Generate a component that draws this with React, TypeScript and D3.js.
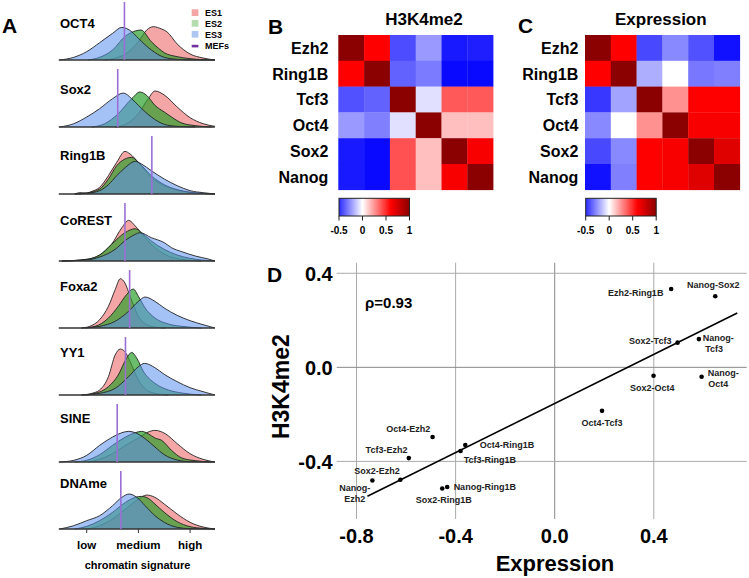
import React from 'react';
import * as d3 from 'd3';

// ---------- Panel A data ----------
const ridgeMarks = ['OCT4', 'Sox2', 'Ring1B', 'CoREST', 'Foxa2', 'YY1', 'SINE', 'DNAme'];
const seriesNames = ['ES1', 'ES2', 'ES3'];
const mefPositions = [1.73, 1.6, 2.26, 1.74, 1.83, 1.75, 1.59, 1.66];
const signatureTickValues = [1, 2, 3];
const signatureTickLabels = ['low', 'medium', 'high'];

type P = [number, number];
const es1Curves: P[][] = [
  [[1.35, 0], [1.5, 0.04], [1.75, 0.18], [2.0, 0.55], [2.16, 0.9], [2.29, 1.0], [2.45, 0.93], [2.55, 0.85], [2.75, 0.48], [3.0, 0.18], [3.25, 0.06], [3.48, 0]],
  [[1.55, 0], [1.75, 0.08], [2.0, 0.4], [2.19, 0.85], [2.32, 1.08], [2.51, 0.95], [2.75, 0.6], [3.0, 0.28], [3.25, 0.1], [3.48, 0.02]],
  [[0.77, 0], [0.87, 0.04], [1.0, 0.03], [1.1, 0.08], [1.25, 0.2], [1.42, 0.55], [1.58, 0.95], [1.74, 1.28], [1.84, 1.2], [2.0, 0.95], [2.25, 0.5], [2.5, 0.25], [2.75, 0.12], [3.0, 0.05], [3.48, 0]],
  [[0.52, 0], [1.0, 0.05], [1.25, 0.18], [1.48, 0.5], [1.68, 1.0], [1.81, 1.22], [1.94, 1.05], [2.13, 0.7], [2.32, 0.4], [2.58, 0.15], [2.84, 0.05], [3.22, 0]],
  [[0.9, 0], [1.06, 0.05], [1.25, 0.25], [1.42, 0.65], [1.55, 1.15], [1.65, 1.48], [1.74, 1.35], [1.84, 0.95], [2.0, 0.35], [2.16, 0.1], [2.32, 0.03], [2.52, 0]],
  [[0.9, 0], [1.1, 0.05], [1.25, 0.15], [1.42, 0.55], [1.55, 1.2], [1.65, 1.38], [1.74, 1.3], [1.84, 1.0], [2.0, 0.45], [2.16, 0.15], [2.32, 0.05], [2.58, 0]],
  [[1.03, 0], [1.25, 0.08], [1.5, 0.25], [1.75, 0.5], [2.0, 0.72], [2.19, 0.9], [2.32, 0.95], [2.52, 0.85], [2.75, 0.55], [3.0, 0.25], [3.25, 0.08], [3.48, 0]],
  [[1.03, 0], [1.25, 0.1], [1.5, 0.3], [1.75, 0.6], [2.0, 0.9], [2.16, 1.02], [2.32, 0.95], [2.5, 0.75], [2.75, 0.45], [3.0, 0.2], [3.25, 0.06], [3.48, 0]],
];
const es2Curves: P[][] = [
  [[1.03, 0], [1.25, 0.08], [1.5, 0.3], [1.75, 0.72], [1.9, 0.85], [2.05, 0.9], [2.25, 0.55], [2.39, 0.35], [2.5, 0.22], [2.75, 0.1], [3.0, 0.04], [3.25, 0.01], [3.48, 0]],
  [[1.1, 0], [1.35, 0.1], [1.61, 0.4], [1.87, 0.85], [2.03, 1.05], [2.16, 0.95], [2.32, 0.65], [2.5, 0.45], [2.64, 0.3], [2.84, 0.12], [3.1, 0.04], [3.42, 0]],
  [[0.77, 0], [1.0, 0.03], [1.25, 0.15], [1.42, 0.45], [1.58, 0.85], [1.74, 1.05], [1.87, 1.1], [2.0, 0.95], [2.25, 0.55], [2.5, 0.28], [2.75, 0.13], [3.0, 0.05], [3.48, 0]],
  [[0.52, 0], [1.0, 0.05], [1.25, 0.18], [1.48, 0.5], [1.74, 0.85], [1.94, 0.97], [2.06, 0.85], [2.25, 0.6], [2.5, 0.35], [2.75, 0.18], [3.0, 0.08], [3.48, 0]],
  [[0.9, 0], [1.16, 0.05], [1.42, 0.3], [1.61, 0.65], [1.77, 1.0], [1.9, 1.17], [2.0, 0.95], [2.13, 0.6], [2.32, 0.3], [2.58, 0.12], [2.84, 0.05], [3.22, 0]],
  [[0.9, 0], [1.16, 0.05], [1.42, 0.25], [1.61, 0.6], [1.77, 1.1], [1.87, 1.28], [1.97, 1.1], [2.1, 0.7], [2.32, 0.35], [2.58, 0.15], [2.84, 0.06], [3.22, 0]],
  [[0.77, 0], [1.0, 0.05], [1.25, 0.22], [1.5, 0.5], [1.75, 0.75], [1.94, 0.88], [2.06, 0.92], [2.19, 0.85], [2.32, 0.72], [2.45, 0.65], [2.64, 0.35], [2.84, 0.12], [3.1, 0.04], [3.42, 0]],
  [[0.77, 0], [1.0, 0.08], [1.25, 0.25], [1.5, 0.5], [1.75, 0.8], [1.94, 0.95], [2.06, 0.98], [2.19, 0.92], [2.32, 0.75], [2.5, 0.5], [2.75, 0.22], [3.0, 0.07], [3.25, 0.02], [3.48, 0]],
];
const es3Curves: P[][] = [
  [[0.48, 0], [0.75, 0.08], [1.0, 0.25], [1.25, 0.52], [1.5, 0.8], [1.68, 0.98], [1.87, 0.85], [2.0, 0.65], [2.25, 0.3], [2.5, 0.08], [2.75, 0.02], [3.0, 0], [3.48, 0]],
  [[0.48, 0], [0.75, 0.1], [1.0, 0.3], [1.25, 0.55], [1.5, 0.85], [1.71, 1.02], [1.87, 0.85], [2.0, 0.65], [2.25, 0.3], [2.5, 0.08], [2.75, 0.02], [3.1, 0]],
  [[0.77, 0], [1.0, 0.02], [1.25, 0.1], [1.42, 0.28], [1.58, 0.55], [1.75, 0.8], [1.94, 0.98], [2.06, 0.9], [2.25, 0.7], [2.5, 0.45], [2.75, 0.25], [3.0, 0.1], [3.25, 0.04], [3.48, 0]],
  [[0.52, 0], [1.0, 0.03], [1.25, 0.12], [1.55, 0.35], [1.75, 0.62], [1.94, 0.8], [2.03, 0.85], [2.25, 0.7], [2.5, 0.55], [2.64, 0.4], [2.84, 0.28], [3.1, 0.15], [3.35, 0.06], [3.48, 0]],
  [[0.97, 0], [1.25, 0.05], [1.55, 0.2], [1.81, 0.5], [2.0, 0.8], [2.13, 0.93], [2.32, 0.8], [2.5, 0.6], [2.75, 0.38], [3.0, 0.22], [3.25, 0.1], [3.48, 0]],
  [[0.97, 0], [1.25, 0.05], [1.55, 0.2], [1.81, 0.55], [2.0, 0.85], [2.12, 0.95], [2.32, 0.82], [2.5, 0.62], [2.75, 0.4], [3.0, 0.22], [3.25, 0.1], [3.48, 0]],
  [[0.48, 0], [0.75, 0.05], [1.0, 0.2], [1.25, 0.5], [1.5, 0.75], [1.68, 0.88], [1.81, 0.92], [1.94, 0.88], [2.13, 0.7], [2.32, 0.45], [2.5, 0.22], [2.75, 0.06], [3.0, 0.01], [3.48, 0]],
  [[0.48, 0], [0.75, 0.1], [1.0, 0.25], [1.25, 0.4], [1.5, 0.7], [1.68, 0.95], [1.82, 1.05], [1.97, 0.95], [2.13, 0.7], [2.32, 0.4], [2.5, 0.2], [2.75, 0.05], [3.0, 0.01], [3.48, 0]],
];

// ---------- Panels B / C data ----------
const genes = ['Ezh2', 'Ring1B', 'Tcf3', 'Oct4', 'Sox2', 'Nanog'];
const h3k4me2Matrix = [
  [1, 0.6, -0.42, -0.24, -0.54, -0.53],
  [0.6, 1, -0.37, -0.31, -0.58, -0.58],
  [-0.41, -0.37, 1, -0.07, 0.39, 0.39],
  [-0.24, -0.3, -0.07, 1, 0.15, 0.15],
  [-0.54, -0.58, 0.41, 0.15, 1, 0.62],
  [-0.54, -0.58, 0.41, 0.15, 0.62, 1],
];
const expressionMatrix = [
  [1, 0.6, -0.43, -0.28, -0.41, -0.56],
  [0.6, 1, -0.19, 0, -0.32, -0.3],
  [-0.47, -0.22, 1, 0.26, 0.6, 0.6],
  [-0.28, 0, 0.26, 1, 0.62, 0.62],
  [-0.43, -0.28, 0.6, 0.62, 1, 0.71],
  [-0.56, -0.3, 0.6, 0.62, 0.71, 1],
];
const colorbarTicks = [-0.5, 0, 0.5, 1];
const colorbarTickLabels = ['-0.5', '0', '0.5', '1'];

// ---------- Panel D data ----------
const pairNames = ['Ezh2-Ring1B', 'Nanog-Sox2', 'Sox2-Tcf3', 'Nanog-Tcf3', 'Sox2-Oct4', 'Nanog-Oct4', 'Oct4-Tcf3', 'Oct4-Ezh2', 'Tcf3-Ezh2', 'Sox2-Ezh2', 'Nanog-Ezh2', 'Tcf3-Ring1B', 'Oct4-Ring1B', 'Sox2-Ring1B', 'Nanog-Ring1B'];
const pairExpression = [0.47, 0.648, 0.496, 0.582, 0.399, 0.593, 0.191, -0.493, -0.589, -0.623, -0.736, -0.38, -0.361, -0.454, -0.434];
const pairH3K4me2 = [0.333, 0.302, 0.105, 0.12, -0.036, -0.04, -0.185, -0.296, -0.386, -0.478, -0.481, -0.356, -0.33, -0.515, -0.509];
const scatterXTicks = [-0.8, -0.4, 0, 0.4];
const scatterYTicks = [0.4, 0, -0.4];
const fitSlope = 0.522;
const fitIntercept = -0.154;
const fitXRange = [-0.756, 0.737];
const rhoLabel = 'ρ=0.93';

// label placement (layout only)
const labelLayout: Record<string, { t: string; dx: number; dy: number }[]> = {
  'Ezh2-Ring1B': [{ t: 'Ezh2-Ring1B', dx: -35.5, dy: 3.3 }],
  'Nanog-Sox2': [{ t: 'Nanog-Sox2', dx: -2, dy: -11.6 }],
  'Sox2-Tcf3': [{ t: 'Sox2-Tcf3', dx: -27.3, dy: -2 }],
  'Nanog-Tcf3': [{ t: 'Nanog-', dx: 19.3, dy: -1 }, { t: 'Tcf3', dx: 15.3, dy: 10 }],
  'Sox2-Oct4': [{ t: 'Sox2-Oct4', dx: -1.3, dy: 11.7 }],
  'Nanog-Oct4': [{ t: 'Nanog-', dx: 21.7, dy: -4.3 }, { t: 'Oct4', dx: 16.7, dy: 7.3 }],
  'Oct4-Tcf3': [{ t: 'Oct4-Tcf3', dx: 0, dy: 12.3 }],
  'Oct4-Ezh2': [{ t: 'Oct4-Ezh2', dx: -24.2, dy: -8.3 }],
  'Tcf3-Ezh2': [{ t: 'Tcf3-Ezh2', dx: -22.3, dy: -8.3 }],
  'Sox2-Ezh2': [{ t: 'Sox2-Ezh2', dx: -23.4, dy: -9 }],
  'Nanog-Ezh2': [{ t: 'Nanog-', dx: -17.7, dy: 7.6 }, { t: 'Ezh2', dx: -17.7, dy: 18.6 }],
  'Tcf3-Ring1B': [{ t: 'Tcf3-Ring1B', dx: 29.3, dy: 8.7 }],
  'Oct4-Ring1B': [{ t: 'Oct4-Ring1B', dx: 41.7, dy: -0.3 }],
  'Sox2-Ring1B': [{ t: 'Sox2-Ring1B', dx: 1.5, dy: 11.3 }],
  'Nanog-Ring1B': [{ t: 'Nanog-Ring1B', dx: 37.7, dy: 0 }],
};

const FONT = "'Liberation Sans', Arial, sans-serif";
const seriesFill = ['#f08080', '#2ca02c', '#5b8ff0'];
const seriesOpacity = [0.7, 0.7, 0.55];
const legendFill = ['#f4a6a6', '#b5dcae', '#adc6f2'];

const heatColor = d3.scaleLinear<string>()
  .domain([-0.6, 0, 0.6, 1])
  .range(['#0000ff', '#ffffff', '#ff0000', '#8b0000'])
  .clamp(true);

function RidgePanel() {
  const rx = d3.scaleLinear().domain([1, 3]).range([86.7, 190.1]);
  const dy = d3.scaleLinear().domain([0, 1]).range([0, 33.3]);
  const curveSets = [es1Curves, es2Curves, es3Curves];
  return (
    <g>
      {ridgeMarks.map((m, i) => {
        const base = 60 + i * 67;
        const labelY = 28.3 + i * 65.7;
        const area = d3.area<P>().x(d => rx(d[0])).y0(base).y1(d => base - dy(d[1])).curve(d3.curveMonotoneX);
        const line = d3.line<P>().x(d => rx(d[0])).y(d => base - dy(d[1])).curve(d3.curveMonotoneX);
        return (
          <g key={m}>
            <text x={60} y={labelY} fontSize={13} fontWeight="bold" fontFamily={FONT}>{m}</text>
            {curveSets.map((cs, s) => (
              <g key={s}>
                <path d={area(cs[i]) || ''} fill={seriesFill[s]} fillOpacity={seriesOpacity[s]} />
                <path d={line(cs[i]) || ''} fill="none" stroke="#222" strokeWidth={0.9} />
              </g>
            ))}
            <line x1={rx(0.46)} x2={rx(3.48)} y1={base} y2={base} stroke="#333" strokeWidth={1.3} />
            <line x1={rx(mefPositions[i])} x2={rx(mefPositions[i])} y1={base - 58} y2={base} stroke="#9b6fd6" strokeWidth={1.6} />
            {i === ridgeMarks.length - 1 && signatureTickValues.map((v, k) => (
              <g key={v}>
                <line x1={rx(v)} x2={rx(v)} y1={base} y2={base + 4} stroke="#333" strokeWidth={1} />
                <text x={rx(v)} y={549} textAnchor="middle" fontSize={11.5} fontWeight="bold" fontFamily={FONT}>{signatureTickLabels[k]}</text>
              </g>
            ))}
          </g>
        );
      })}
      <text x={137.5} y={569} textAnchor="middle" fontSize={11} fontWeight="bold" fontFamily={FONT}>chromatin signature</text>
      {/* legend */}
      {seriesNames.map((n, s) => (
        <g key={n}>
          <rect x={191.7} y={[9.3, 20, 30.9][s]} width={6.7} height={6.7} fill={legendFill[s]} />
          <text x={205} y={[16, 26.7, 37.5][s]} fontSize={9} fontWeight="bold" fontFamily={FONT}>{n}</text>
        </g>
      ))}
      <rect x={191.7} y={44.8} width={6.7} height={2.6} fill="#7030a0" />
      <text x={205} y={49.3} fontSize={9} fontWeight="bold" fontFamily={FONT}>MEFs</text>
      <text x={2} y={33} fontSize={21} fontWeight="bold" fontFamily={FONT}>A</text>
    </g>
  );
}

function Heatmap({ x0, matrix, title, titleX, letter, letterX, letterY, labelGap }: any) {
  const cell = 25.8;
  const band = d3.scaleBand<string>().domain(genes).range([0, cell * genes.length]);
  const y0 = 35;
  const cb = d3.scaleLinear().domain([-0.5, 1]).range([x0 + 0.7, x0 + 71.2]);
  const gradId = 'grad' + letter;
  const stops = d3.range(0, 31).map(k => -0.5 + (1.5 * k) / 30);
  return (
    <g>
      <text x={letterX} y={letterY} fontSize={21} fontWeight="bold" fontFamily={FONT}>{letter}</text>
      <text x={titleX} y={24.5} textAnchor="middle" fontSize={17} fontWeight="bold" fontFamily={FONT}>{title}</text>
      {matrix.map((row: number[], r: number) =>
        row.map((v: number, c: number) => (
          <rect key={r + '-' + c} x={x0 + (band(genes[c]) as number)} y={y0 + (band(genes[r]) as number)} width={band.bandwidth() + 0.3} height={band.bandwidth() + 0.3} fill={heatColor(v)} />
        ))
      )}
      {genes.map(g => (
        <text key={g} x={x0 - labelGap} y={y0 + (band(g) as number) + band.bandwidth() / 2 + 5.8} textAnchor="end" fontSize={16} fontWeight="bold" fontFamily={FONT}>{g}</text>
      ))}
      <defs>
        <linearGradient id={gradId} x1="0" x2="1" y1="0" y2="0">
          {stops.map((v, k) => (
            <stop key={k} offset={(k / 30) * 100 + '%'} stopColor={heatColor(v)} />
          ))}
        </linearGradient>
      </defs>
      <rect x={cb(-0.5)} y={198.3} width={cb(1) - cb(-0.5)} height={17.7} fill={`url(#${gradId})`} stroke="#222" strokeWidth={1} />
      {colorbarTicks.map((t, k) => (
        <g key={t}>
          <line x1={cb(t)} x2={cb(t)} y1={216} y2={220.5} stroke="#222" strokeWidth={1} />
          <text x={cb(t)} y={233.5} textAnchor="middle" fontSize={10} fontWeight="bold" fontFamily={FONT}>{colorbarTickLabels[k]}</text>
        </g>
      ))}
    </g>
  );
}

function Scatter() {
  const x = d3.scaleLinear().domain([-0.88, 0.775]).range([336.7, 746.7]);
  const y = d3.scaleLinear().domain([-0.645, 0.445]).range([519, 262.7]);
  return (
    <g>
      {scatterXTicks.map(t => (
        <g key={'x' + t}>
          <line x1={x(t)} x2={x(t)} y1={y(0.445)} y2={y(-0.645)} stroke={t === 0 ? '#888' : '#aaa'} strokeWidth={1} />
          <text x={x(t)} y={543} textAnchor="middle" fontSize={20} fontWeight="bold" fontFamily={FONT}>{t === 0 ? '0.0' : t.toFixed(1)}</text>
        </g>
      ))}
      {scatterYTicks.map(t => (
        <g key={'y' + t}>
          <line x1={x(-0.88)} x2={x(0.775)} y1={y(t)} y2={y(t)} stroke={t === 0 ? '#888' : '#aaa'} strokeWidth={1} />
          <text x={332.7} y={y(t) + 7.5} textAnchor="end" fontSize={20} fontWeight="bold" fontFamily={FONT}>{t === 0 ? '0.0' : t.toFixed(1)}</text>
        </g>
      ))}
      <line x1={x(fitXRange[0])} y1={y(fitSlope * fitXRange[0] + fitIntercept)} x2={x(fitXRange[1])} y2={y(fitSlope * fitXRange[1] + fitIntercept)} stroke="#000" strokeWidth={1.6} />
      {pairNames.map((n, i) => {
        const cx = x(pairExpression[i]);
        const cy = y(pairH3K4me2[i]);
        return (
          <g key={n}>
            <circle cx={cx} cy={cy} r={2.3} fill="#000" />
            {labelLayout[n].map((l, k) => (
              <text key={k} x={cx + l.dx} y={cy + l.dy + 3.2} textAnchor="middle" fontSize={9} fontWeight="bold" fill="#222" fontFamily={FONT}>{l.t}</text>
            ))}
          </g>
        );
      })}
      <text x={365} y={308} fontSize={15} fontWeight="bold" fontFamily={FONT}>{rhoLabel}</text>
      <text x={555} y={571} textAnchor="middle" fontSize={22} fontWeight="bold" fontFamily={FONT}>Expression</text>
      <text transform="translate(288.5,386.7) rotate(-90)" textAnchor="middle" fontSize={23} fontWeight="bold" fontFamily={FONT}>H3K4me2</text>
      <text x={267} y={282} fontSize={21} fontWeight="bold" fontFamily={FONT}>D</text>
    </g>
  );
}

export default function App() {
  return (
    <svg width={749} height={578} style={{ position: 'absolute', left: 0, top: 0, background: '#fff' }}>
      <rect width={749} height={578} fill="#fff" />
      <RidgePanel />
      <Heatmap x0={338.3} matrix={h3k4me2Matrix} title="H3K4me2" titleX={424} letter="B" letterX={268} letterY={34} labelGap={10} />
      <Heatmap x0={585} matrix={expressionMatrix} title="Expression" titleX={660.8} letter="C" letterX={518} letterY={33} labelGap={6.7} />
      <Scatter />
    </svg>
  );
}
